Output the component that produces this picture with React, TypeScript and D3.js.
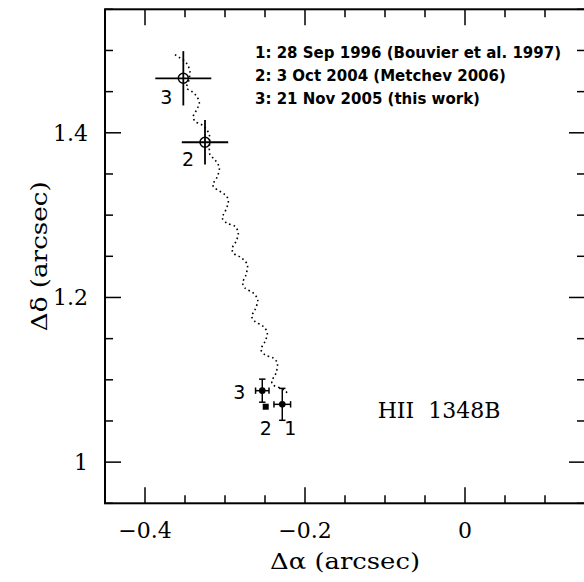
import React from "react";
import * as d3 from "d3";

// ---- data ----
const xDomain = [-0.45, 0.15];
const yDomain = [0.95, 1.55];
const xMajorTicks = [-0.4, -0.2, 0];
const xTickLabels = ["\u22120.4", "\u22120.2", "0"];
const yMajorTicks = [1.0, 1.2, 1.4];
const yTickLabels = ["1", "1.2", "1.4"];

// predicted background-star track
const trackX = [
  -0.3625, -0.3563, -0.35, -0.3459, -0.3438, -0.345, -0.3479, -0.3416, -0.3354, -0.3321,
  -0.3354, -0.3396, -0.3375, -0.3291, -0.3229, -0.3196, -0.3194, -0.3188, -0.3125, -0.3071,
  -0.3104, -0.3154, -0.3125, -0.3, -0.2959, -0.2979, -0.3021, -0.3034, -0.2979, -0.2875,
  -0.2834, -0.2863, -0.2909, -0.2896, -0.2791, -0.2721, -0.2738, -0.2779, -0.275, -0.2646,
  -0.2591, -0.2625, -0.2666, -0.2625, -0.2521, -0.2471, -0.25, -0.255, -0.25, -0.2396,
  -0.2346, -0.2363, -0.2416, -0.24, -0.2291, -0.2238, -0.2209,
];
const trackY = [
  1.4949, 1.4909, 1.4868, 1.4807, 1.4742, 1.4645, 1.4544, 1.4503, 1.4442, 1.4362,
  1.4281, 1.4199, 1.4139, 1.4098, 1.4038, 1.3977, 1.3855, 1.3734, 1.3673, 1.3572,
  1.3451, 1.3369, 1.3329, 1.3248, 1.3187, 1.3086, 1.3005, 1.2965, 1.2904, 1.2863,
  1.2782, 1.268, 1.26, 1.2539, 1.2479, 1.2397, 1.2276, 1.2175, 1.2114, 1.2053,
  1.1972, 1.1851, 1.1769, 1.1708, 1.1648, 1.1567, 1.1465, 1.1365, 1.1304, 1.1264,
  1.1203, 1.1081, 1.0979, 1.0939, 1.0891, 1.0858, 1.0806,
];

// predicted positions (open circles, large crosses)
const predLabels = ["3", "2"];
const predX = [-0.3521, -0.325];
const predY = [1.4662, 1.3885];
const predXErr = [0.035, 0.029];
const predYErr = [0.033, 0.027];

// observed positions
const obsLabels = ["1", "3"];
const obsX = [-0.2284, -0.2534];
const obsY = [1.0702, 1.0868];
const obsXErr = [0.0104, 0.0084];
const obsYErr = [0.0194, 0.014];
const sqLabel = "2";
const sqX = [-0.2491];
const sqY = [1.0673];

const legendNums = ["1", "2", "3"];
const legendTexts = [
  ": 28 Sep 1996 (Bouvier et al. 1997)",
  ": 3 Oct 2004 (Metchev 2006)",
  ": 21 Nov 2005 (this work)",
];

export default function App() {
  const W = 584, H = 582;
  const left = 105, right = 585, top = 9.3, bottom = 503.3;
  const x = d3.scaleLinear().domain(xDomain).range([left, right]);
  const y = d3.scaleLinear().domain(yDomain).range([bottom, top]);
  const minorX = x.ticks(12);
  const minorY = y.ticks(12);
  const isMajor = (v: number, majors: number[]) => majors.some((m) => Math.abs(m - v) < 1e-6);
  const majL = 16, minL = 8;
  const serif = "'DejaVu Serif', serif";
  const sans = "'DejaVu Sans', sans-serif";

  const trackPts = trackX.map((v, i) => [x(v), y(trackY[i])] as [number, number]);
  const line = d3.line().curve(d3.curveCatmullRom.alpha(0.5));

  const cap = 3.2;

  return (
    <svg width={W} height={H} style={{ position: "absolute", left: 0, top: 0 }}>
      <rect x={0} y={0} width={W} height={H} fill="#fff" />
      {/* ticks */}
      <g stroke="#000" strokeWidth={1.5}>
        {minorX.map((v, i) => {
          const L = isMajor(v, xMajorTicks) ? majL : minL;
          return (
            <g key={"xt" + i}>
              <line x1={x(v)} x2={x(v)} y1={bottom} y2={bottom - L} />
              <line x1={x(v)} x2={x(v)} y1={top} y2={top + L} />
            </g>
          );
        })}
        {minorY.map((v, i) => {
          const L = isMajor(v, yMajorTicks) ? majL : minL;
          return (
            <g key={"yt" + i}>
              <line x1={left} x2={left + L} y1={y(v)} y2={y(v)} />
              <line x1={right} x2={right - L} y1={y(v)} y2={y(v)} />
            </g>
          );
        })}
      </g>
      {/* frame */}
      <rect x={left} y={top} width={right - left} height={bottom - top} fill="none" stroke="#000" strokeWidth={2} />
      {/* tick labels */}
      <g fontFamily={serif} fontSize={22} fill="#000">
        {xMajorTicks.map((v, i) => (
          <text key={"xl" + i} x={x(v)} y={538} textAnchor="middle">{xTickLabels[i]}</text>
        ))}
        {yMajorTicks.map((v, i) => (
          <text key={"yl" + i} x={88} y={y(v) + 8} textAnchor="end">{yTickLabels[i]}</text>
        ))}
      </g>
      {/* axis titles */}
      <text x={(left + right) / 2} y={569} textAnchor="middle" fontFamily={serif} fontSize={23}
        textLength={150} lengthAdjust="spacingAndGlyphs">
        {"\u0394\u03b1 (arcsec)"}
      </text>
      <text transform={`translate(47,${(top + bottom) / 2}) rotate(-90)`} textAnchor="middle" fontFamily={serif} fontSize={23}
        textLength={150} lengthAdjust="spacingAndGlyphs">
        {"\u0394\u03b4 (arcsec)"}
      </text>
      {/* track */}
      <path d={line(trackPts) || ""} fill="none" stroke="#000" strokeWidth={1.6} strokeDasharray="1.6 3" />
      {/* predicted positions */}
      {predX.map((v, i) => (
        <g key={"p" + i} stroke="#000" strokeWidth={1.8} fill="none">
          <line x1={x(v - predXErr[i])} x2={x(v + predXErr[i])} y1={y(predY[i])} y2={y(predY[i])} />
          <line x1={x(v)} x2={x(v)} y1={y(predY[i] - predYErr[i])} y2={y(predY[i] + predYErr[i])} />
          <circle cx={x(v)} cy={y(predY[i])} r={5} strokeWidth={1.5} />
        </g>
      ))}
      <g fontFamily={sans} fontSize={19} fill="#000">
        <text x={x(predX[0]) - 17} y={y(predY[0]) + 26} textAnchor="middle">{predLabels[0]}</text>
        <text x={x(predX[1]) - 17} y={y(predY[1]) + 24} textAnchor="middle">{predLabels[1]}</text>
      </g>
      {/* observed positions */}
      {obsX.map((v, i) => {
        const cx = x(v), cy = y(obsY[i]);
        const x0 = x(v - obsXErr[i]), x1 = x(v + obsXErr[i]);
        const y0 = y(obsY[i] - obsYErr[i]), y1 = y(obsY[i] + obsYErr[i]);
        return (
          <g key={"o" + i} stroke="#000" strokeWidth={1.5}>
            <line x1={x0} x2={x1} y1={cy} y2={cy} />
            <line x1={x0} x2={x0} y1={cy - cap} y2={cy + cap} />
            <line x1={x1} x2={x1} y1={cy - cap} y2={cy + cap} />
            <line x1={cx} x2={cx} y1={y0} y2={y1} />
            <line x1={cx - cap} x2={cx + cap} y1={y0} y2={y0} />
            <line x1={cx - cap} x2={cx + cap} y1={y1} y2={y1} />
            <circle cx={cx} cy={cy} r={3.3} fill="#000" stroke="none" />
          </g>
        );
      })}
      {sqX.map((v, i) => (
        <rect key={"s" + i} x={x(v) - 3} y={y(sqY[i]) - 3} width={6} height={6} fill="#000" />
      ))}
      <g fontFamily={sans} fontSize={19} fill="#000">
        <text x={x(obsX[1]) - 23} y={y(obsY[1]) + 8} textAnchor="middle">{obsLabels[1]}</text>
        <text x={x(sqX[0])} y={y(sqY[0]) + 28} textAnchor="middle">{sqLabel}</text>
        <text x={x(obsX[0]) + 8} y={y(obsY[0]) + 31} textAnchor="middle">{obsLabels[0]}</text>
      </g>
      {/* legend */}
      <g fontFamily={sans} fontSize={15} fontWeight="bold" fill="#000">
        {legendNums.map((n, i) => (
          <text key={"lg" + i} x={255} y={58 + i * 23}>
            <tspan>{n}</tspan>
            <tspan>{legendTexts[i]}</tspan>
          </text>
        ))}
      </g>
      <text x={439} y={418} textAnchor="middle" fontFamily={serif} fontSize={22}>
        {"HII\u00a0\u00a01348B"}
      </text>
    </svg>
  );
}
